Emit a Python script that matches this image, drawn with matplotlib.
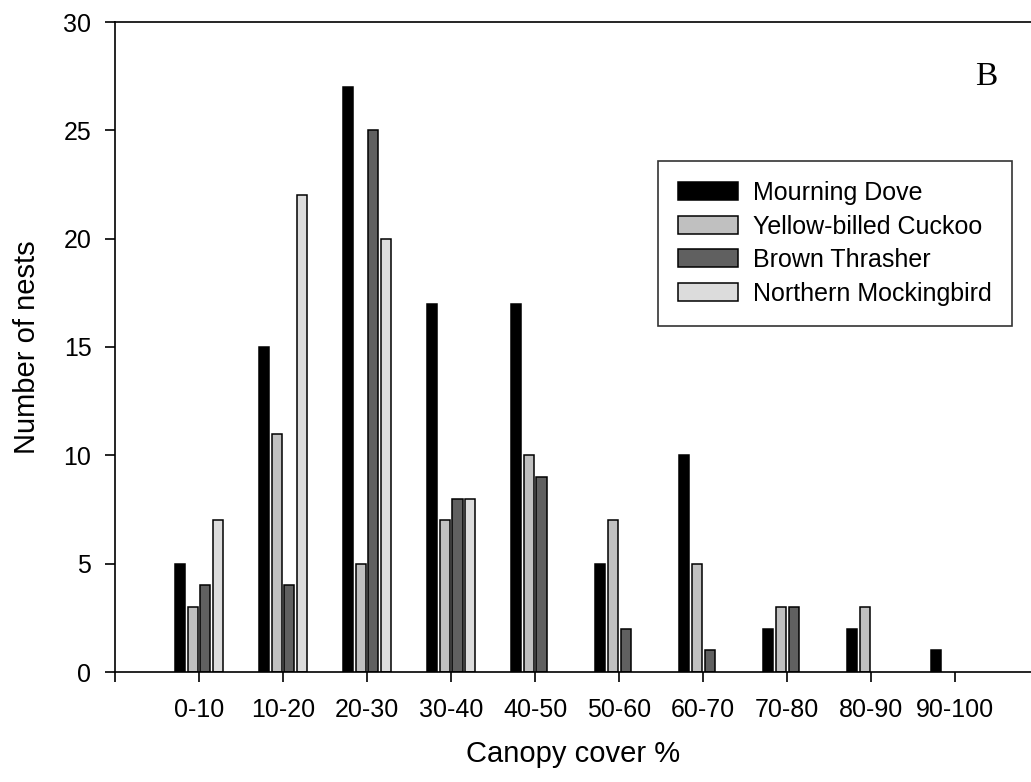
import numpy as np
import matplotlib
matplotlib.use("Agg")
import matplotlib.pyplot as plt

plt.rcParams['font.family'] = ['Liberation Sans', 'DejaVu Sans']

# canopy cover classes
categories = ['0-10', '10-20', '20-30', '30-40', '40-50',
              '50-60', '60-70', '70-80', '80-90', '90-100']

# nest counts per species
mourning_dove = [5, 15, 27, 17, 17, 5, 10, 2, 2, 1]
yellow_billed_cuckoo = [3, 11, 5, 7, 10, 7, 5, 3, 3, 0]
brown_thrasher = [4, 4, 25, 8, 9, 2, 1, 3, 0, 0]
northern_mockingbird = [7, 22, 20, 8, 0, 0, 0, 0, 0, 0]

series = [
    ('Mourning Dove', mourning_dove, '#000000'),
    ('Yellow-billed Cuckoo', yellow_billed_cuckoo, '#c0c0c0'),
    ('Brown Thrasher', brown_thrasher, '#606060'),
    ('Northern Mockingbird', northern_mockingbird, '#dcdcdc'),
]

fig = plt.figure(figsize=(10.31, 7.82), dpi=100)
ax = fig.add_axes([115 / 1031, 110 / 782, 1 - 115 / 1031, 650 / 782])

x = np.arange(1, len(categories) + 1)
step = 0.151
width = 0.12
for i, (name, vals, col) in enumerate(series):
    vals = np.array(vals, dtype=float)
    # skip empty bars so nothing is drawn at zero
    mask = vals > 0
    ax.bar(x[mask] + (i - 1.5) * step, vals[mask], width=width, color=col,
           edgecolor='black', linewidth=1.1, label=name)

ax.set_xlim(0, 10.9)
ax.set_ylim(0, 30)
ax.set_yticks(range(0, 31, 5))
ax.set_xticks(range(0, 11))
ax.set_xticklabels([''] + categories)
ax.tick_params(axis='both', direction='out', length=7, width=1.2,
               labelsize=18)
ax.tick_params(axis='x', pad=12)
ax.tick_params(axis='y', pad=10)

for side in ['left', 'bottom', 'top']:
    ax.spines[side].set_linewidth(1.2)
ax.spines['right'].set_visible(False)

ax.set_xlabel('Canopy cover %', fontsize=21, labelpad=13)
ax.set_ylabel('Number of nests', fontsize=21, labelpad=16)

leg = ax.legend(loc='upper left', bbox_to_anchor=(658 / 1031, 1 - 161 / 782),
                bbox_transform=fig.transFigure, fontsize=18, frameon=True,
                fancybox=False, edgecolor='black', handlelength=2.4,
                handleheight=0.75, handletextpad=0.6, labelspacing=0.38,
                borderpad=0.8, borderaxespad=0)
leg.get_frame().set_linewidth(1.2)

fig.text(986 / 1031, 1 - 77 / 782, 'B', fontsize=24, ha='center', va='center',
         family='Liberation Serif')

fig.savefig('out.png', dpi=100)
